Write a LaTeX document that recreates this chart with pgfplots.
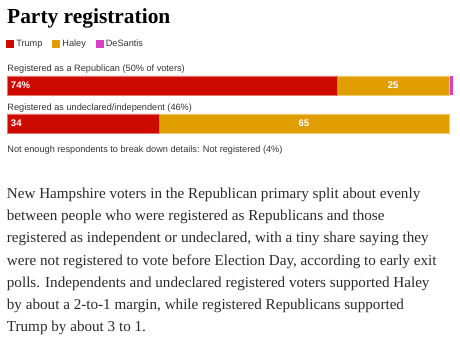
\documentclass[border=0pt]{standalone}
\usepackage{pgfplots}
\pgfplotsset{compat=1.18}
\usepackage{fontspec}
\setmainfont{Liberation Serif}
\newfontfamily\sans{Liberation Sans}
\definecolor{trump}{HTML}{CC0A00}
\definecolor{haley}{HTML}{E09E00}
\definecolor{desantis}{HTML}{D83FC6}
\definecolor{txt}{HTML}{333333}
\definecolor{bodytxt}{HTML}{2A2A2A}
\begin{document}
\begin{tikzpicture}[x=1bp,y=1bp]
\path (0,0) rectangle (460,344);
\node[anchor=base west, inner sep=0, font=\fontsize{21.5}{25}\selectfont\bfseries, text=black] at (7,321) {Party registration};
\begin{axis}[
  at={(7.3bp,211bp)}, anchor=south west,
  scale only axis, width=446bp, height=57bp,
  xbar stacked, bar width=19bp,
  xmin=0, xmax=100, ymin=-0.25, ymax=1.25,
  hide axis, clip=false,
  legend columns=-1,
  legend style={at={(-0.0022,1.561)}, anchor=west, draw=none, fill=none,
    inner sep=0pt, outer sep=0pt,
    font=\sans\fontsize{9.2}{11}\selectfont, text=txt,
    /tikz/every even column/.append style={column sep=8bp},
    cells={anchor=west}},
  legend image code/.code={\path[#1,draw=none] (0bp,-4bp) rectangle (8bp,4bp);},
]
\addplot[fill=trump, draw=trump!55!white, line width=0.6bp] coordinates {(74,1) (34,0)};
\addplot[fill=haley, draw=haley!55!white, line width=0.6bp] coordinates {(25,1) (65,0)};
\addplot[fill=desantis, draw=none] coordinates {(1,1) (0,0)};
\legend{Trump, Haley, DeSantis}
\coordinate (t1) at (axis cs:0,1);
\coordinate (h1) at (axis cs:86.5,1);
\coordinate (t0) at (axis cs:0,0);
\coordinate (h0) at (axis cs:66.5,0);
\end{axis}
\begin{scope}[every node/.style={inner sep=0, text=white, font=\sans\bfseries\fontsize{9.6}{11}\selectfont}]
\node[anchor=west] at ([xshift=3.5bp]t1) {74\%};
\node at (h1) {25};
\node[anchor=west] at ([xshift=3.5bp]t0) {34};
\node at (h0) {65};
\end{scope}
\begin{scope}[every node/.style={anchor=base west, inner sep=0, text=txt, font=\sans\fontsize{9.2}{11}\selectfont}]
\node at (7.3,273) {Registered as a Republican (50\% of voters)};
\node at (7.3,234) {Registered as undeclared/independent (46\%)};
\node at (7.3,192) {Not enough respondents to break down details: Not registered (4\%)};
\end{scope}
\begin{scope}[every node/.style={anchor=base west, inner sep=0, text=bodytxt, font=\fontsize{15.2}{18}\selectfont}]
\node at (6.7,145.5) {New Hampshire voters in the Republican primary split about evenly};
\node at (6.7,123.3) {between people who were registered as Republicans and those};
\node at (6.7,101.1) {registered as independent or undeclared, with a tiny share saying they};
\node at (6.7,78.9) {were not registered to vote before Election Day, according to early exit};
\node at (6.7,56.7) {polls. Independents and undeclared registered voters supported Haley};
\node at (6.7,34.5) {by about a 2-to-1 margin, while registered Republicans supported};
\node at (6.7,12.3) {Trump by about 3 to 1.};
\end{scope}
\end{tikzpicture}
\end{document}
